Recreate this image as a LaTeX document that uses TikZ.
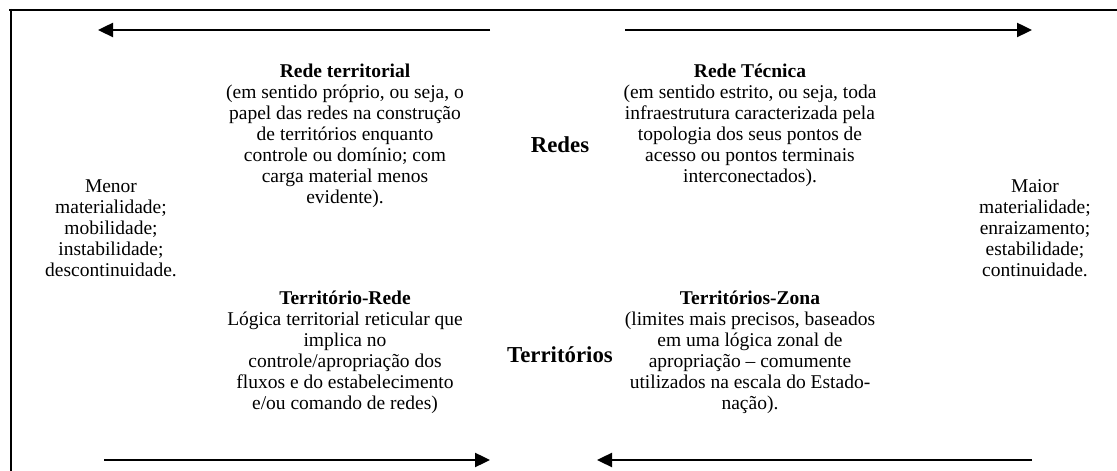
\documentclass[tikz,border=0pt]{standalone}
\usepackage{fontspec}
\setmainfont{Liberation Serif}
\usetikzlibrary{arrows.meta}
\begin{document}
\begin{tikzpicture}[x=1pt,y=1pt,
  txt/.style={align=center,inner sep=0pt,font=\fontsize{19.5}{21}\selectfont},
  hd/.style={inner sep=0pt,font=\fontsize{22.8}{24}\selectfont\bfseries},
  arr/.style={line width=2.4pt,-{Triangle[length=15pt,width=14pt]}},
  frm/.style={line width=2pt}]
\useasboundingbox (0,0) rectangle (1117,471);
% frame
\coordinate (f1) at (9,461);
\coordinate (f2) at (1117,461);
\coordinate (f3) at (11,462);
\coordinate (f4) at (11,0);
\draw[frm] (f1) -- (f2);
\draw[frm] (f3) -- (f4);
% arrows
\coordinate (a1s) at (490,441); \coordinate (a1e) at (98,441);
\coordinate (a2s) at (625,441); \coordinate (a2e) at (1032,441);
\coordinate (a3s) at (104,11);  \coordinate (a3e) at (490,11);
\coordinate (a4s) at (1032,11); \coordinate (a4e) at (597,11);
\draw[arr] (a1s) -- (a1e);
\draw[arr] (a2s) -- (a2e);
\draw[arr] (a3s) -- (a3e);
\draw[arr] (a4s) -- (a4e);
% texts
\node[txt] (rt) at (345,335.5) {\textbf{Rede territorial}\\(em sentido próprio, ou seja, o\\papel das redes na construção\\de territórios enquanto\\controle ou domínio; com\\carga material menos\\evidente).};
\node[txt] (rtec) at (750,345.5) {\textbf{Rede Técnica}\\(em sentido estrito, ou seja, toda\\infraestrutura caracterizada pela\\topologia dos seus pontos de\\acesso ou pontos terminais\\interconectados).};
\node[hd] (redes) at (560,326) {Redes};
\node[txt] (menor) at (111,243) {Menor\\materialidade;\\mobilidade;\\instabilidade;\\descontinuidade.};
\node[txt] (maior) at (1035,243) {Maior\\materialidade;\\enraizamento;\\estabilidade;\\continuidade.};
\node[txt] (tr) at (345,118.5) {\textbf{Território-Rede}\\Lógica territorial reticular que\\implica no\\controle/apropriação dos\\fluxos e do estabelecimento\\e/ou comando de redes)};
\node[txt] (tz) at (750,118.5) {\textbf{Territórios-Zona}\\(limites mais precisos, baseados\\em uma lógica zonal de\\apropriação – comumente\\utilizados na escala do Estado-\\nação).};
\node[hd] (terr) at (560,116) {Territórios};
\end{tikzpicture}
\end{document}
